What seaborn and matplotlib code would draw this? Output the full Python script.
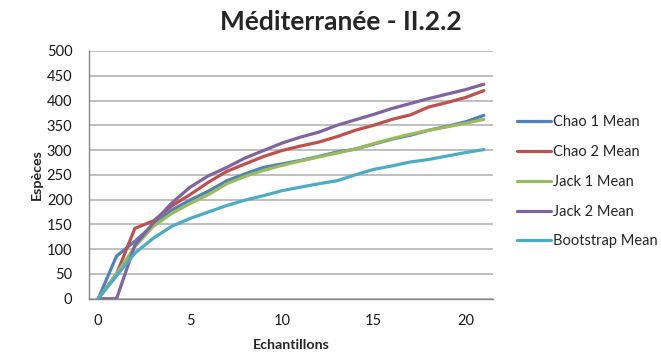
import numpy as np
import pandas as pd
import matplotlib
matplotlib.use("Agg")
import matplotlib.pyplot as plt
import seaborn as sns

# Sample counts (x axis)
samples = list(range(22))

# Mean species-richness estimators per number of samples
chao1 = [0, 86, 116, 149, 179, 199, 217, 238, 252, 265, 272, 279, 287, 296,
         302, 312, 322, 330, 340, 348, 357, 370]
chao2 = [0, 50, 142, 157, 187, 210, 235, 257, 272, 287, 299, 308, 316, 327,
         340, 350, 362, 371, 387, 396, 406, 420]
jack1 = [0, 50, 105, 146, 172, 192, 210, 232, 247, 259, 269, 278, 286, 294,
         302, 313, 323, 332, 340, 347, 354, 362]
jack2 = [0, 0, 108, 153, 193, 225, 248, 265, 284, 299, 314, 326, 336, 350,
         361, 372, 384, 394, 404, 413, 422, 433]
bootstrap = [0, 46, 92, 122, 146, 162, 175, 188, 199, 208, 218, 225, 232, 238,
             250, 261, 268, 276, 281, 288, 295, 301]

series_names = ["Chao 1 Mean", "Chao 2 Mean", "Jack 1 Mean", "Jack 2 Mean",
                "Bootstrap Mean"]
series_values = [chao1, chao2, jack1, jack2, bootstrap]
palette = ["#4F81BD", "#C0504D", "#9BBB59", "#8064A2", "#4BACC6"]

title = "Méditerranée - II.2.2"
x_label = "Echantillons"
y_label = "Espèces"

df = pd.DataFrame({
    "Echantillons": np.tile(samples, len(series_names)),
    "Espèces": np.concatenate(series_values),
    "Série": np.repeat(series_names, len(samples)),
})

sns.set_style("white")
plt.rcParams["font.family"] = ["Lato", "DejaVu Sans"]

fig = plt.figure(figsize=(6.61, 3.56), dpi=100)
ax = fig.add_axes([89 / 661, 1 - 298.7 / 356, (493 - 89) / 661, (298.7 - 51) / 356])

sns.lineplot(data=df, x="Echantillons", y="Espèces", hue="Série",
             palette=palette, linewidth=2.3, ax=ax, legend=False)

ax.set_xlim(-0.5, 21.5)
ax.set_ylim(0, 500)
ax.set_yticks(range(0, 501, 50))
ax.set_xticks(range(0, 21, 5))
ax.set_xticks(np.arange(-0.5, 21.6, 1.0), minor=True)
ax.tick_params(axis="x", which="major", length=0, labelsize=10.5,
               colors="#1a1a1a", pad=11)
ax.tick_params(axis="x", which="minor", length=4, width=1, color="#868686",
               direction="out")
ax.tick_params(axis="y", length=4, width=1, color="#868686", direction="out",
               labelsize=10.5, labelcolor="#1a1a1a", pad=8)

ax.grid(axis="y", color="#BFBFBF", linewidth=1.4)
ax.set_axisbelow(True)
for side in ("top", "right"):
    ax.spines[side].set_visible(False)
for side in ("left", "bottom"):
    ax.spines[side].set_color("#868686")
    ax.spines[side].set_linewidth(1)

ax.set_xlabel(x_label, fontsize=10.3, fontweight="bold", labelpad=8)
ax.set_ylabel(y_label, fontsize=10.3, fontweight="bold", labelpad=3)

fig.text(341 / 661, 1 - 22 / 356, title, ha="center", va="center",
         fontsize=19, fontweight="bold")

handles = [plt.Line2D([], [], color=c, linewidth=2.3) for c in palette]
fig.legend(handles, series_names, loc="center left",
           bbox_to_anchor=(517 / 661, 1 - 182 / 356), frameon=False,
           fontsize=10.5, handlelength=2.3, handletextpad=0.15,
           labelspacing=1.08, borderpad=0, borderaxespad=0)

fig.savefig("out.png", dpi=100)
